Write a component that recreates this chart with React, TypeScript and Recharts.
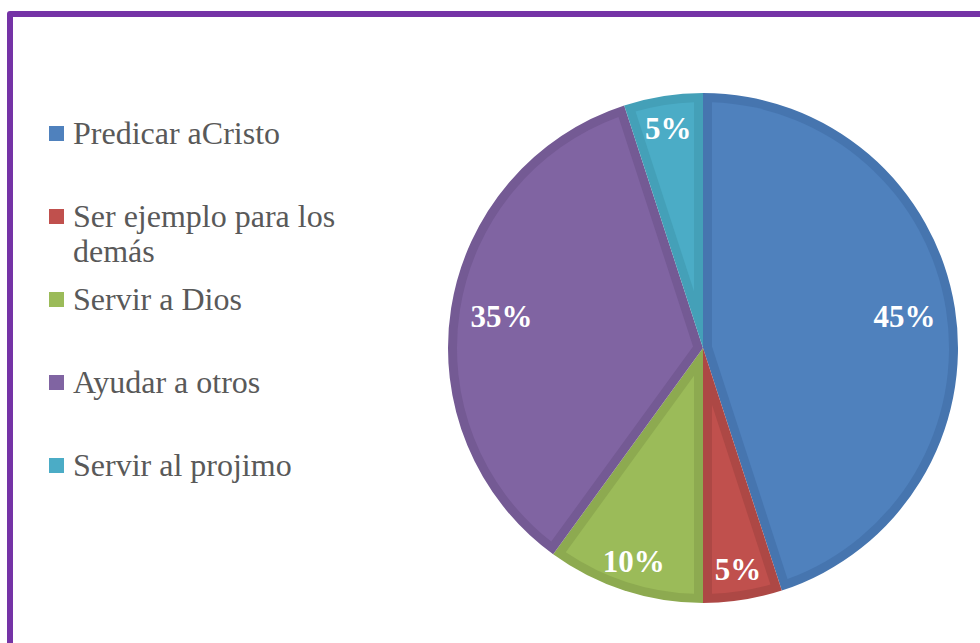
import React from 'react';
import { PieChart, Pie, Cell, Sector } from 'recharts';

const categories = ['Predicar aCristo', 'Ser ejemplo para los demás', 'Servir a Dios', 'Ayudar a otros', 'Servir al projimo'];
const values = [45, 5, 10, 35, 5];
const fills = ['#4F81BD', '#C0504D', '#9BBB59', '#8064A2', '#4BACC6'];
const edges = ['#4675AF', '#AD4845', '#8DAA50', '#745A94', '#44A0B8'];

const data = categories.map((name, i) => ({ name, value: values[i], fill: fills[i], edge: edges[i] }));

const RAD = Math.PI / 180;
const polar = (cx: number, cy: number, r: number, a: number) => [cx + r * Math.cos(-a * RAD), cy + r * Math.sin(-a * RAD)];

// slice with a darker band on the inside of its edge, like the office style
const renderSlice = (props: any) => {
  const { cx, cy, outerRadius, startAngle, endAngle, payload, fill } = props;
  const d = 9;
  const lo = Math.min(startAngle, endAngle);
  const hi = Math.max(startAngle, endAngle);
  const half = (hi - lo) / 2;
  const mid = (lo + hi) / 2;
  const rr = outerRadius - d;
  const delta = Math.asin(d / rr) / RAD;
  const apex = polar(cx, cy, d / Math.sin(half * RAD), mid);
  const p1 = polar(cx, cy, rr, lo + delta);
  const p2 = polar(cx, cy, rr, hi - delta);
  const large = hi - lo - 2 * delta > 180 ? 1 : 0;
  const path = `M${apex[0]},${apex[1]} L${p1[0]},${p1[1]} A${rr},${rr} 0 ${large} 0 ${p2[0]},${p2[1]} Z`;
  const edge = (payload && payload.edge) || fill;
  const inner = (payload && payload.fill) || fill;
  return (
    <g>
      <Sector cx={cx} cy={cy} innerRadius={0} outerRadius={outerRadius} startAngle={startAngle} endAngle={endAngle} fill={edge} stroke="none" />
      <path d={path} fill={inner} stroke="none" />
    </g>
  );
};

// best-fit-ish label distance per slice: big slices nearer the centre
const labelFactor = [0.8, 0.88, 0.88, 0.8, 0.87];

const renderLabel = (props: any) => {
  const { cx, cy, midAngle, outerRadius, index, value } = props;
  const r = outerRadius * (labelFactor[index] || 0.87);
  const [x, y] = polar(cx, cy, r, midAngle);
  return (
    <text x={x} y={y} fill="#FFFFFF" textAnchor="middle" dominantBaseline="central"
      fontFamily="'Liberation Serif', 'Times New Roman', serif" fontWeight="bold" fontSize={31}>
      {`${value}%`}
    </text>
  );
};

const LegendBox: React.FC = () => (
  <div style={{ position: 'absolute', left: 49, top: 116, width: 330, fontFamily: "'Liberation Serif', 'Times New Roman', serif", fontSize: 32, color: '#595959' }}>
    {categories.map((name, i) => (
      <div key={name} style={{ height: 83, display: 'flex', alignItems: 'flex-start' }}>
        <div style={{ width: 15, height: 15, marginTop: 10, marginRight: 9, flex: 'none', background: fills[i] }} />
        <div style={{ width: 280, lineHeight: '35px' }}>{name}</div>
      </div>
    ))}
  </div>
);

const App: React.FC = () => {
  return (
    <div style={{ position: 'fixed', left: 0, top: 0, width: 980, height: 643, overflow: 'hidden', background: '#FFFFFF' }}>
      <div style={{ position: 'absolute', left: 7, top: 11, width: 1000, height: 700, border: '6px solid #7533A6', borderRadius: 3 }} />
      <div style={{ position: 'absolute', left: 0, top: 0 }}>
        <PieChart width={980} height={643} margin={{ top: 0, right: 0, bottom: 0, left: 0 }}>
          <Pie
            data={data}
            dataKey="value"
            nameKey="name"
            cx={703}
            cy={348}
            outerRadius={255}
            startAngle={90}
            endAngle={-270}
            stroke="none"
            shape={renderSlice}
            activeShape={renderSlice}
            inactiveShape={renderSlice}
            label={renderLabel}
            labelLine={false}
            isAnimationActive={false}
          >
            {data.map((d, i) => (
              <Cell key={i} fill={d.fill} />
            ))}
          </Pie>
        </PieChart>
      </div>
      <LegendBox />
    </div>
  );
};

export default App;
